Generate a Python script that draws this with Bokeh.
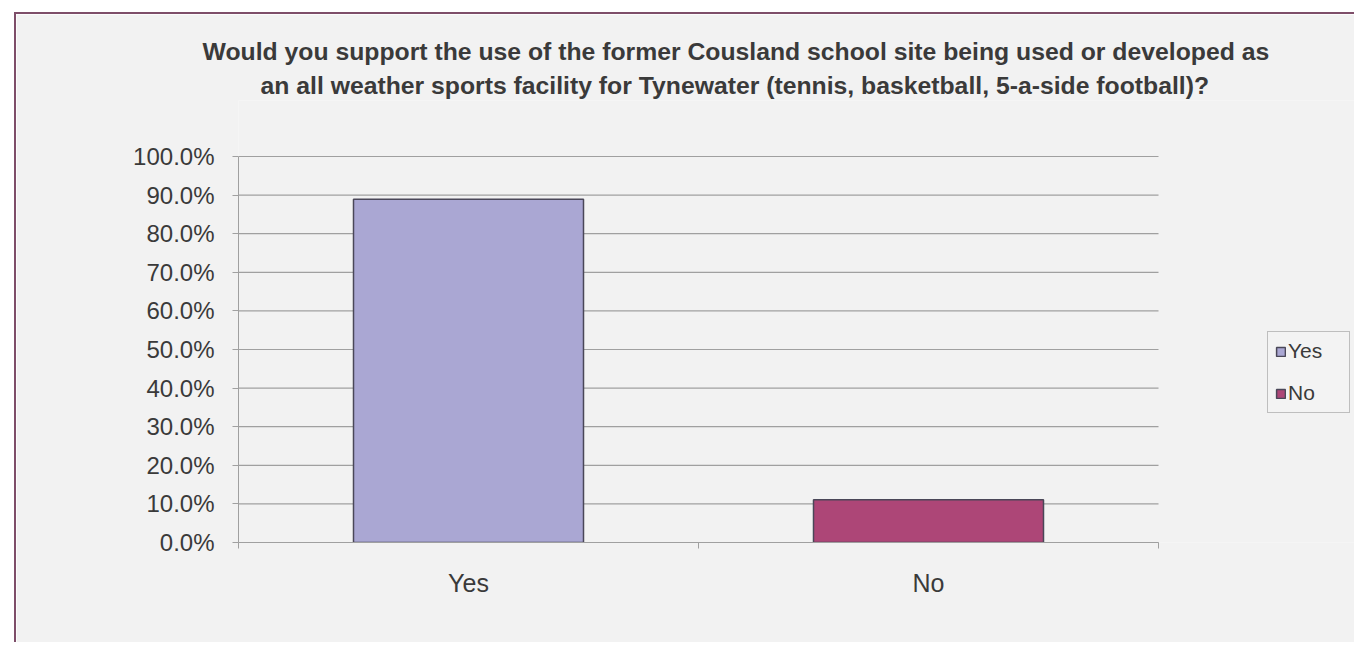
from bokeh.plotting import figure
from bokeh.models import (Range1d, LinearAxis, FixedTicker, NumeralTickFormatter,
                          ColumnDataSource, Title)
from bokeh.embed import file_html
from bokeh.resources import INLINE

title_lines = ["Would you support the use of the former Cousland school site being used or developed as",
               "an all weather sports facility for Tynewater (tennis, basketball, 5-a-side football)?"]
categories = ["Yes", "No"]
shares = [0.889, 0.111]
colors = ["#aaa7d3", "#ad4677"]
y_ticks = [0.0, 0.1, 0.2, 0.3, 0.4, 0.5, 0.6, 0.7, 0.8, 0.9, 1.0]

BG = "#f2f2f2"
FONT = "Liberation Sans"
TXT = "#3a3a3a"
GRID = "#a0a0a0"

# layout (pixels)
W, H = 1340, 630
LEFT, TOP, BOTTOM = 222, 86, 102
PLOT_W, PLOT_H = 920, 386           # visible chart area inside the frame
FRAME_W, FRAME_H = W - LEFT, H - TOP - BOTTOM

n = len(categories)
centers = [i + 0.5 for i in range(n)]
bounds = list(range(n + 1))
y_max = y_ticks[-1]

p = figure(x_range=Range1d(0, n * FRAME_W / PLOT_W), y_range=Range1d(0, y_max * FRAME_H / PLOT_H),
           width=W, height=H, output_backend="svg", toolbar_location=None,
           x_axis_location=None, y_axis_location=None,
           min_border_left=LEFT, min_border_right=0, min_border_top=TOP, min_border_bottom=BOTTOM,
           background_fill_color=BG, border_fill_color=BG, outline_line_color=None)
p.margin = (12, 0, 0, 14)
p.styles = {"border-top": "2px solid #7e4e69", "border-left": "2px solid #7e4e69"}
p.xgrid.visible = False
p.ygrid.visible = False

# horizontal gridlines limited to the chart area
p.segment(x0=0, x1=n, y0=y_ticks, y1=y_ticks, line_color=GRID, line_width=1.2, level="underlay")

src = ColumnDataSource(dict(x=centers, cat=categories, val=shares, col=colors))
p.vbar(x="x", top="val", width=0.5, source=src, fill_color="col",
       line_color="#4a4758", line_width=1.5, legend_field="cat")

# y axis
yax = LinearAxis(ticker=FixedTicker(ticks=y_ticks), formatter=NumeralTickFormatter(format="0.0%"),
                 bounds=(0, y_max),
                 axis_line_color=GRID, major_tick_line_color=GRID,
                 major_tick_in=0, major_tick_out=6, minor_tick_line_color=None,
                 major_label_text_font=FONT, major_label_text_font_size="24px",
                 major_label_text_color=TXT, major_label_standoff=18)
p.add_layout(yax, "left")

# x axis: boundary ticks, then category labels
xt = LinearAxis(ticker=FixedTicker(ticks=bounds), bounds=(0, n),
                axis_line_color=GRID, major_tick_line_color=GRID,
                major_tick_in=0, major_tick_out=6, minor_tick_line_color=None,
                major_label_text_alpha=0, major_label_text_font_size="1px", major_label_standoff=0)
p.add_layout(xt, "below")
xc = LinearAxis(ticker=FixedTicker(ticks=centers), bounds=(0, n),
                major_label_overrides={c: lab for c, lab in zip(centers, categories)},
                axis_line_color=None, major_tick_line_color=None, minor_tick_line_color=None,
                major_label_text_font=FONT, major_label_text_font_size="25px",
                major_label_text_color=TXT, major_label_standoff=14)
p.add_layout(xc, "below")

# titles (closest first)
p.add_layout(Title(text=title_lines[1], align="left", offset=22, standoff=3,
                   text_font=FONT, text_font_size="24.75px", text_font_style="bold",
                   text_color=TXT), "above")
p.add_layout(Title(text=title_lines[0], align="left", offset=-36, standoff=7,
                   text_font=FONT, text_font_size="24.75px", text_font_style="bold",
                   text_color=TXT), "above")

lg = p.legend[0]
lg.location = (1029, 129)
lg.background_fill_color = BG
lg.border_line_color = "#8a8a8a"
lg.border_line_width = 1.5
lg.label_text_font = FONT
lg.label_text_font_size = "21px"
lg.label_text_color = TXT
lg.glyph_width = 11
lg.glyph_height = 11
lg.label_standoff = 2
lg.label_width = 54
lg.spacing = 18
lg.padding = 7
lg.margin = 0

open("out.html", "w").write(file_html(p, INLINE))
